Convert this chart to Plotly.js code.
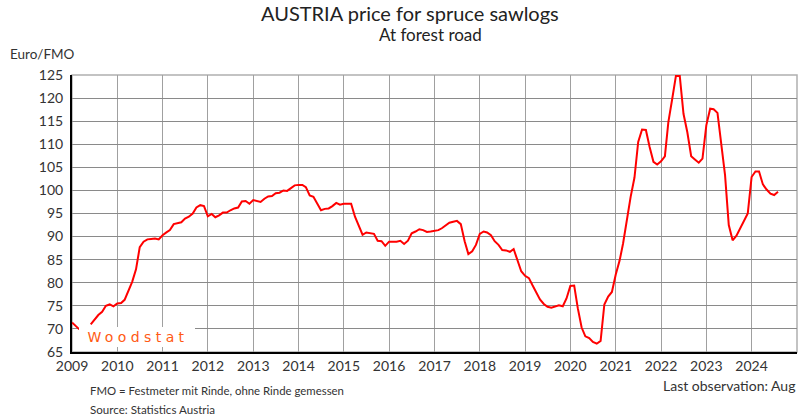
<!DOCTYPE html>
<html>
<head>
<meta charset="utf-8">
<script src="https://cdn.plot.ly/plotly-3.0.1.min.js"></script>
<style>
  html, body { margin: 0; padding: 0; background: #fff; }
  #chart { width: 811px; height: 416px; }
  g.annotation[data-index="0"] text { letter-spacing: 4.4px; }
</style>
</head>
<body>
<div id="chart"></div>
<script>
// Monthly price, Euro/FMO (Jan..Dec)
const p2009 = [71.4, 70.7, 69.9, null, null, 71.0, 72.1, 73.0, 73.7, 75.0, 75.3, 74.9];
const p2010 = [75.5, 75.6, 76.3, 78.2, 80.2, 82.9, 87.7, 88.9, 89.4, 89.5, 89.6, 89.4];
const p2011 = [90.3, 90.9, 91.4, 92.7, 92.9, 93.1, 93.9, 94.3, 95.0, 96.3, 96.8, 96.6];
const p2012 = [94.4, 94.9, 94.2, 94.6, 95.2, 95.2, 95.7, 96.1, 96.3, 97.6, 97.7, 97.1];
const p2013 = [97.9, 97.6, 97.5, 98.2, 98.7, 98.8, 99.4, 99.5, 100.0, 99.9, 100.5, 101.1];
const p2014 = [101.2, 101.2, 100.7, 98.9, 98.6, 97.1, 95.7, 96.0, 96.1, 96.6, 97.3, 96.9];
const p2015 = [97.1, 97.1, 97.1, 94.3, 92.5, 90.4, 90.9, 90.7, 90.6, 89.1, 89.0, 88.0];
const p2016 = [88.9, 88.9, 88.9, 89.1, 88.4, 89.1, 90.7, 91.1, 91.6, 91.4, 91.0, 91.1];
const p2017 = [91.2, 91.4, 91.8, 92.4, 93.0, 93.2, 93.4, 92.7, 89.0, 86.2, 86.8, 88.2];
const p2018 = [90.6, 91.1, 90.9, 90.3, 89.0, 88.2, 87.1, 87.0, 86.7, 87.3, 85.0, 82.5];
const p2019 = [81.5, 81.0, 79.5, 77.8, 76.4, 75.4, 74.8, 74.6, 74.9, 75.1, 74.9, 76.6];
const p2020 = [79.3, 79.4, 74.5, 70.3, 68.4, 68.0, 67.2, 66.8, 67.4, 75.3, 77.0, 78.0];
const p2021 = [81.8, 84.8, 88.5, 94.0, 98.6, 102.8, 110.5, 113.2, 113.1, 109.4, 106.2, 105.6];
const p2022 = [106.3, 107.4, 114.8, 119.8, 124.8, 124.8, 116.6, 112.6, 107.4, 106.7, 106.0, 106.9];
const p2023 = [114.1, 117.7, 117.6, 116.8, 110.1, 103.3, 92.5, 89.2, 90.2, 91.7, 93.3, 95.0];
const p2024 = [102.9, 104.1, 104.1, 101.3, 100.2, 99.3, 99.0, 99.7];

const years = [2009,2010,2011,2012,2013,2014,2015,2016,2017,2018,2019,2020,2021,2022,2023,2024];
const yearly = [p2009,p2010,p2011,p2012,p2013,p2014,p2015,p2016,p2017,p2018,p2019,p2020,p2021,p2022,p2023,p2024];

const titleText = "AUSTRIA price for spruce sawlogs";
const subtitleText = "At forest road";
const unitText = "Euro/FMO";
const noteText = "FMO = Festmeter mit Rinde, ohne Rinde gemessen";
const sourceText = "Source: Statistics Austria";
const lastObsText = "Last observation: Aug";
const logoText = "Woodstat";

const xs = [], ys = [];
years.forEach((yr, i) => {
  yearly[i].forEach((v, m) => {
    xs.push(yr + "-" + String(m + 1).padStart(2, "0") + "-01");
    ys.push(v);
  });
});

// plot area geometry (pixels)
const L = 72, R = 797, T = 75, B = 352;
const W = 811, H = 416;
const px = x => (x - L) / (R - L);
const py = y => (B - y) / (B - T);

const FONT = "Lato, 'Open Sans', sans-serif";

const trace = {
  x: xs, y: ys, type: "scatter", mode: "lines",
  line: { color: "#ff0000", width: 2 },
  connectgaps: false, hoverinfo: "skip"
};

const layout = {
  width: W, height: H,
  margin: { l: L, r: W - R, t: T, b: H - B, pad: 0 },
  paper_bgcolor: "#ffffff", plot_bgcolor: "#ffffff",
  showlegend: false,
  font: { family: FONT, color: "#333" },
  xaxis: {
    type: "date",
    range: ["2009-01-01", "2025-01-01"],
    tick0: "2009-01-01", dtick: "M12", tickformat: "%Y",
    showgrid: true, gridcolor: "#a0a0a0", gridwidth: 1,
    showline: true, linecolor: "#000", linewidth: 2,
    ticks: "", zeroline: false,
    tickfont: { size: 14, color: "#333", family: FONT },
    fixedrange: true
  },
  yaxis: {
    range: [65, 125], tick0: 65, dtick: 5,
    showgrid: true, gridcolor: "#8a8a8a", gridwidth: 1,
    showline: true, linecolor: "#000", linewidth: 2,
    ticks: "", zeroline: false,
    tickfont: { size: 14, color: "#333", family: FONT },
    ticklabelstandoff: 4,
    fixedrange: true
  },
  shapes: [
    { type: "rect", xref: "paper", yref: "paper", x0: 0, x1: 1, y0: 0, y1: 1,
      line: { color: "#b0b0b0", width: 1.5 }, fillcolor: "rgba(0,0,0,0)", layer: "below" },
    { type: "rect", xref: "paper", yref: "paper",
      x0: px(79), x1: px(195), y0: py(347), y1: py(327),
      line: { width: 0 }, fillcolor: "#ffffff", layer: "above" }
  ],
  annotations: [
    { text: logoText, xref: "paper", yref: "paper", x: px(137.5), y: py(337),
      xanchor: "center", yanchor: "middle", showarrow: false,
      font: { family: "'DejaVu Sans', sans-serif", size: 14, color: "#ff5a14" } },
    { text: titleText, xref: "paper", yref: "paper", x: px(410), y: py(13),
      xanchor: "center", yanchor: "middle", showarrow: false,
      font: { family: FONT, size: 20, color: "#222" } },
    { text: subtitleText, xref: "paper", yref: "paper", x: px(430.5), y: py(35),
      xanchor: "center", yanchor: "middle", showarrow: false,
      font: { family: FONT, size: 17, color: "#222" } },
    { text: unitText, xref: "paper", yref: "paper", x: px(8), y: py(54),
      xanchor: "left", yanchor: "middle", showarrow: false,
      font: { family: FONT, size: 13.5, color: "#333" } },
    { text: lastObsText, xref: "paper", yref: "paper", x: px(797), y: py(385),
      xanchor: "right", yanchor: "middle", showarrow: false,
      font: { family: FONT, size: 14, color: "#333" } },
    { text: noteText, xref: "paper", yref: "paper", x: px(88), y: py(390),
      xanchor: "left", yanchor: "middle", showarrow: false,
      font: { family: FONT, size: 11.4, color: "#333" } },
    { text: sourceText, xref: "paper", yref: "paper", x: px(88), y: py(409),
      xanchor: "left", yanchor: "middle", showarrow: false,
      font: { family: FONT, size: 11.6, color: "#333" } }
  ]
};

Plotly.newPlot("chart", [trace], layout, { staticPlot: true, displayModeBar: false });
</script>
</body>
</html>
